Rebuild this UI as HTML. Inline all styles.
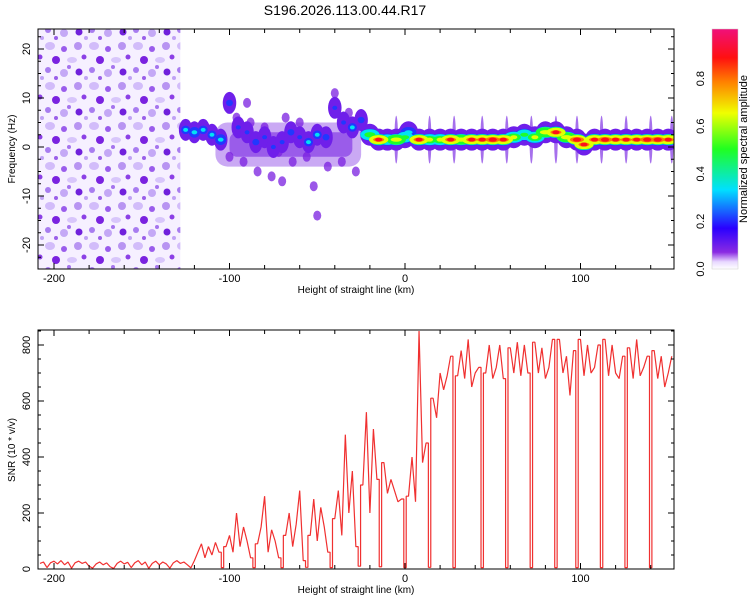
<!DOCTYPE html>
<html><head><meta charset="utf-8"><style>
html,body{margin:0;padding:0;background:#fff;width:750px;height:600px;overflow:hidden}
svg text{font-family:"Liberation Sans",sans-serif;fill:#000}
</style></head><body>
<svg id="chart" width="750" height="600" viewBox="0 0 750 600" xmlns="http://www.w3.org/2000/svg">
<defs>
<linearGradient id="cbar" x1="0" y1="1" x2="0" y2="0">
<stop offset="0" stop-color="#ffffff"/><stop offset="0.03" stop-color="#e8d8ff"/>
<stop offset="0.07" stop-color="#8a2be2"/><stop offset="0.17" stop-color="#2a00ff"/>
<stop offset="0.33" stop-color="#00e0ff"/><stop offset="0.5" stop-color="#20ff20"/>
<stop offset="0.65" stop-color="#f0ff00"/><stop offset="0.78" stop-color="#ff8000"/>
<stop offset="0.88" stop-color="#ff1010"/><stop offset="1" stop-color="#f0107a"/>
</linearGradient>
<pattern id="noise" width="44" height="40" patternUnits="userSpaceOnUse">
<rect width="44" height="40" fill="#f6f0ff"/>
<ellipse cx="6" cy="6" rx="5" ry="4" fill="#d2bcfa"/><circle cx="20" cy="9" r="3" fill="#9a5cec"/>
<circle cx="34" cy="6" r="4" fill="#b894f2"/><circle cx="12" cy="20" r="4" fill="#7a22e0"/>
<ellipse cx="28" cy="20" rx="5" ry="3" fill="#d8c6fb"/><circle cx="40" cy="17" r="2.5" fill="#8c40e6"/>
<circle cx="4" cy="30" r="3" fill="#a87cf0"/><circle cx="20" cy="33" r="4" fill="#c4a8f6"/>
<circle cx="35" cy="32" r="3.5" fill="#7020dc"/><circle cx="25" cy="27" r="2" fill="#a574ee"/>
<circle cx="42" cy="38" r="2" fill="#c0a2f5"/><circle cx="12" cy="38" r="2" fill="#9a60ea"/>
</pattern>
<clipPath id="topclip"><rect x="38" y="29" width="636" height="240"/></clipPath>
<clipPath id="botclip"><rect x="38" y="330" width="636" height="239"/></clipPath>
</defs>
<text x="345" y="15" font-size="14" text-anchor="middle">S196.2026.113.00.44.R17</text>
<g id="topPlot" clip-path="url(#topclip)"></g>
<g id="topAxes"></g>
<g id="botPlot" clip-path="url(#botclip)"></g>
<g id="botAxes"></g>
<rect x="712" y="29" width="26" height="240" fill="url(#cbar)"/>
<g id="cbAxes"></g>
</svg>
<script>
// ---- data ----
const bandX = [-125,-120,-115,-110,-105,-100,-95,-90,-85,-80,-75,-70,-65,-60,-55,-50,-45,-40,-35,-30,-25,-20,-15,-10,-5,0,2,8,14,20,26,32,38,44,50,56,62,68,74,80,86,92,98,102,108,114,120,126,132,138,144,150];
const bandFreq = [3.5,3,3.5,2.5,1.5,9,4,3,1,2,0,1,3,2,1,2.5,2,8,5,4,5.5,2.5,1.5,1.5,1.5,2,3,1.5,1.5,1.5,1.5,1.5,1.5,1.5,1.5,1.5,2,2.5,2,3,3,2,1.5,0.5,1.5,1.5,1.5,1.5,1.5,1.5,1.5,1.5];
const bandAmp = [0.3,0.35,0.3,0.3,0.35,0.25,0.2,0.2,0.25,0.2,0.2,0.2,0.25,0.2,0.3,0.3,0.25,0.2,0.2,0.3,0.25,0.55,0.85,0.5,0.7,0.5,0.35,0.85,0.6,0.6,0.85,0.7,0.85,0.85,0.9,0.85,0.6,0.5,0.6,0.7,0.85,0.7,0.9,0.85,0.85,0.9,0.85,0.85,0.85,0.9,0.9,0.85];
const cloudX = [-100,-96,-92,-88,-84,-80,-76,-72,-68,-64,-60,-56,-52,-48,-44,-40,-36,-32,-28,-50,-90,-70];
const cloudFreq = [-2,6,-3,5,-5,4,-6,-1,6,-3,5,-2,-8,3,-4,11,-3,7,-5,-14,9,-7];
const spikeX = [-5,14,28,44,58,72,86,98,112,126,140,152];
const snrKm = [];
for (let k=-208;k<=152;k+=2) snrKm.push(k);
const snrVals = [20,25,5,22,28,18,30,15,25,3,22,28,20,25,10,3,18,25,15,22,8,2,20,28,18,24,5,22,30,15,25,2,20,28,15,25,18,3,22,30,20,25,15,4,
30,60,90,40,80,50,95,60,5,80,120,60,200,80,150,100,40,5,90,150,260,60,140,100,40,5,120,200,80,160,280,30,6,120,250,100,220,150,60,5,180,280,120,480,200,350,80,10,300,560,200,500,320,8,380,270,320,280,240,250,5,260,400,240,850,380,450,6,610,540,700,640,690,760,5,690,780,680,820,650,700,720,5,700,800,680,720,800,680,5,790,700,810,690,800,700,5,810,700,790,680,720,820,5,820,700,760,620,780,5,820,690,800,700,720,800,5,820,690,800,700,680,760,5,790,680,820,690,720,760,5,780,680,760,650,700,760];
// ---- axes ----
const NS="http://www.w3.org/2000/svg";
const X0=405, KM=1.755;
const xs = km => X0 + km*KM;
const yTop = f => 147 - f*4.9;
const yBot = v => 569 - v*0.28;
function el(tag, attrs, parent){const e=document.createElementNS(NS,tag);for(const k in attrs)e.setAttribute(k,attrs[k]);parent.appendChild(e);return e;}
function cmap(a){const s=[[0,[255,255,255]],[0.05,[220,200,255]],[0.1,[138,43,226]],[0.17,[42,0,255]],[0.33,[0,224,255]],[0.5,[32,255,32]],[0.65,[240,255,0]],[0.78,[255,128,0]],[0.88,[255,16,16]],[1,[240,16,122]]];
 for(let i=1;i<s.length;i++){if(a<=s[i][0]){const t=(a-s[i-1][0])/(s[i][0]-s[i-1][0]);const c=s[i-1][1].map((v,j)=>Math.round(v+(s[i][1][j]-v)*t));return `rgb(${c})`;}}return 'rgb(240,16,122)';}
// ---- top heatmap ----
const tp=document.getElementById('topPlot');
const nz=el('rect',{x:38,y:29,width:xs(-128)-38,height:240,fill:'url(#noise)'},tp);


el('rect',{x:xs(-108),y:yTop(5),width:xs(-25)-xs(-108),height:yTop(-4)-yTop(5),fill:'#8a40e6',opacity:0.45,rx:12},tp);
el('rect',{x:xs(-100),y:yTop(3),width:xs(-30)-xs(-100),height:yTop(-2)-yTop(3),fill:'#6a10e0',opacity:0.5,rx:8},tp);
cloudX.forEach((x,i)=>{const c=el('ellipse',{cx:xs(x),cy:yTop(cloudFreq[i]),rx:4,ry:5,fill:'#7a1fe0',opacity:0.75},tp);
 
 });
spikeX.forEach(x=>{const s=el('ellipse',{cx:xs(x),cy:yTop(1.5),rx:1.8,ry:24,fill:'#6a10e0',opacity:0.6},tp);
 
 });
const levels=[0.08,0.17,0.3,0.45,0.6,0.75,0.85];
levels.forEach((l,li)=>{bandX.forEach((x,i)=>{const a=bandAmp[i];if(a<l)return;
 const w=li===0?1.2:Math.max(0.4,(a-l)/0.3+0.3);
 const e=el('ellipse',{cx:xs(x),cy:yTop(bandFreq[i]),rx:(x>=-20?5:3.5)*KM*Math.min(1.1,w),ry:(li===0?11:Math.max(2,6.5*Math.min(1,w)-li*0.5)),fill:cmap(l+0.04)},tp);
 
 });});
// top axes
const ta=document.getElementById('topAxes');
const fr=el('rect',{x:38,y:29,width:636,height:240,fill:'none',stroke:'#000','stroke-width':1},ta);


function xTicks(g,y0,y1){for(let k=-200;k<=150;k+=20){const x=xs(k),L=k%100===0?6:4;el('line',{x1:x,y1:y1,x2:x,y2:y1-L,stroke:'#000'},g);el('line',{x1:x,y1:y0,x2:x,y2:y0+L,stroke:'#000'},g);
 if(k%100===0){const t=el('text',{x:x,y:y1+13,'font-size':11,'text-anchor':'middle'},g);t.textContent=k;}}}
xTicks(ta,29,269);
for(let f=-25;f<=25;f+=2.5){const y=yTop(f);if(y<29||y>269)continue;const L=f%10===0?6:3;el('line',{x1:38,y1:y,x2:38+L,y2:y,stroke:'#000'},ta);el('line',{x1:674,y1:y,x2:674-L,y2:y,stroke:'#000'},ta);
 if(f%10===0){const t=el('text',{x:0,y:0,'font-size':11,'text-anchor':'middle',transform:`translate(30,${y}) rotate(-90)`},ta);t.textContent=f;}}
let t=el('text',{x:356,y:293,'font-size':10,'text-anchor':'middle'},ta);t.textContent='Height of straight line (km)';

t=el('text',{x:0,y:0,'font-size':10,'text-anchor':'middle',transform:'translate(15,149) rotate(-90)'},ta);t.textContent='Frequency (Hz)';

// colorbar axes
const ca=document.getElementById('cbAxes');
el('rect',{x:712,y:29,width:26,height:240,fill:'none',stroke:'#ccc','stroke-width':0.5},ca);
for(let v=0;v<=0.8;v+=0.2){const y=269-v*238;t=el('text',{x:0,y:0,'font-size':11,'text-anchor':'middle',transform:`translate(704,${y}) rotate(-90)`},ca);t.textContent=v.toFixed(1);
 }
t=el('text',{x:0,y:0,'font-size':11,'text-anchor':'middle',transform:'translate(747,149) rotate(-90)'},ca);t.textContent='Normalized spectral amplitude';

// ---- bottom line: straight segments, dropouts drawn as vertical notches ----
const bp=document.getElementById('botPlot');
const pts=[];
snrKm.forEach((k,i)=>{const x=xs(k),y=yBot(snrVals[i]);
 if(snrVals[i]<=10 && k>-122 && i>0 && i<snrVals.length-1){
  pts.push((x-1.2)+','+yBot(snrVals[i-1]));pts.push((x-1.2)+','+y);
  pts.push((x+1.2)+','+y);pts.push((x+1.2)+','+yBot(snrVals[i+1]));
 } else pts.push(x+','+y);});
const pl=el('polyline',{points:pts.join(' '),fill:'none',stroke:'#f03030','stroke-width':1.2,'stroke-linejoin':'bevel'},bp);


const ba=document.getElementById('botAxes');
const fr2=el('rect',{x:38,y:330,width:636,height:239,fill:'none',stroke:'#000'},ba);


xTicks(ba,330,569);
for(let v=0;v<=850;v+=50){const y=yBot(v);const L=v%200===0?6:3;el('line',{x1:38,y1:y,x2:38+L,y2:y,stroke:'#000'},ba);el('line',{x1:674,y1:y,x2:674-L,y2:y,stroke:'#000'},ba);
 if(v%200===0){t=el('text',{x:0,y:0,'font-size':11,'text-anchor':'middle',transform:`translate(30,${y}) rotate(-90)`},ba);t.textContent=v;}}
t=el('text',{x:356,y:593,'font-size':10,'text-anchor':'middle'},ba);t.textContent='Height of straight line (km)';

t=el('text',{x:0,y:0,'font-size':10,'text-anchor':'middle',transform:'translate(15,450) rotate(-90)'},ba);t.textContent='SNR (10 * v/v)';

</script>
</body></html>
